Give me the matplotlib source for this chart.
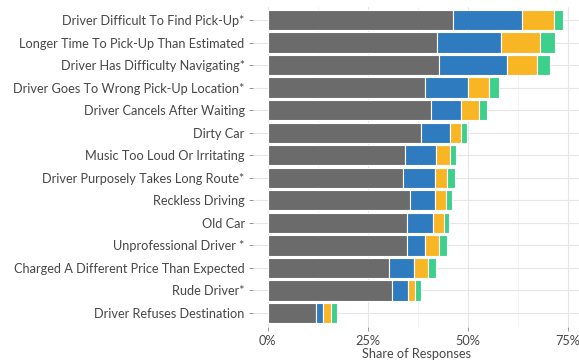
import matplotlib.pyplot as plt
import numpy as np

plt.rcParams["font.family"] = ["Lato", "DejaVu Sans"]

reasons = [
    "Driver Difficult To Find Pick-Up*",
    "Longer Time To Pick-Up Than Estimated",
    "Driver Has Difficulty Navigating*",
    "Driver Goes To Wrong Pick-Up Location*",
    "Driver Cancels After Waiting",
    "Dirty Car",
    "Music Too Loud Or Irritating",
    "Driver Purposely Takes Long Route*",
    "Reckless Driving",
    "Old Car",
    "Unprofessional Driver *",
    "Charged A Different Price Than Expected",
    "Rude Driver*",
    "Driver Refuses Destination",
]

# share of responses (%) per segment, top row first
seg_gray = [46.3, 42.4, 42.8, 39.4, 40.8, 38.3, 34.2, 33.9, 35.5, 34.8, 34.8, 30.2, 31.1, 12.0]
seg_blue = [17.3, 16.0, 16.9, 10.7, 7.6, 7.2, 7.9, 7.8, 6.4, 6.5, 4.5, 6.3, 3.9, 1.8]
seg_yellow = [7.9, 9.6, 7.5, 5.1, 4.4, 2.8, 3.4, 3.1, 2.6, 2.7, 3.5, 3.6, 1.9, 2.0]
seg_green = [2.3, 3.8, 3.4, 2.6, 1.9, 1.5, 1.5, 1.9, 1.5, 1.3, 2.1, 1.9, 1.5, 1.4]

xticks = [0, 25, 50, 75]
xticklabels = ["0%", "25%", "50%", "75%"]

colors = ["#6b6b6b", "#2f7bc0", "#f9b624", "#3dd08c"]
txt = "#474747"

fig = plt.figure(figsize=(5.79, 3.61), dpi=100)
ax = fig.add_axes([253 / 579, 1 - 326.5 / 361, (579 - 253) / 579, (326.5 - 6.5) / 361])

y = np.arange(len(reasons))[::-1]
left = np.zeros(len(reasons))
for vals, c in zip([seg_gray, seg_blue, seg_yellow, seg_green], colors):
    ax.barh(y, vals, left=left, height=0.9, color=c, edgecolor="white", linewidth=0.8, zorder=3)
    left += np.array(vals)

ax.set_xlim(-3.7, 77.8)
ax.set_ylim(-0.6, len(reasons) - 0.4)
ax.set_yticks(y)
ax.set_yticklabels(reasons, fontsize=9.2, color=txt)
ax.set_xticks(xticks)
ax.set_xticklabels(xticklabels, fontsize=9.2, color=txt)
ax.set_xticks([12.5, 37.5, 62.5], minor=True)
ax.grid(True, which="major", color="#e6e6e6", linewidth=0.8, zorder=0)
ax.grid(True, which="minor", axis="x", color="#f0f0f0", linewidth=0.6, zorder=0)
ax.tick_params(axis="both", which="major", length=3, color="#888888", width=0.6, pad=3)
ax.tick_params(axis="x", which="minor", length=0)
for s in ax.spines.values():
    s.set_visible(False)
ax.set_xlabel("Share of Responses", fontsize=9.2, color=txt, labelpad=1)

fig.savefig("out.png", dpi=100, facecolor="white")
plt.close()
